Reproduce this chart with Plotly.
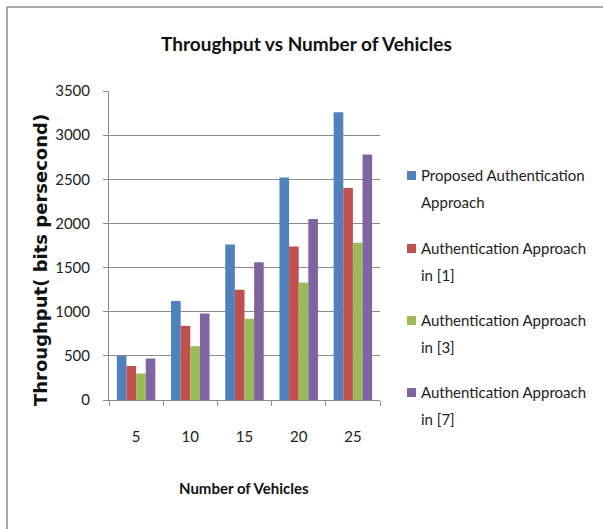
import plotly.graph_objects as go

# Number of vehicles (x categories)
vehicles = ["5", "10", "15", "20", "25"]

# Throughput (bits per second) for each approach
proposed = [500, 1120, 1760, 2520, 3260]
approach_1 = [385, 840, 1250, 1740, 2400]
approach_3 = [300, 610, 920, 1330, 1780]
approach_7 = [470, 980, 1560, 2050, 2780]

series_names = [
    "Proposed Authentication<br>Approach",
    "Authentication Approach<br>in [1]",
    "Authentication Approach<br>in [3]",
    "Authentication Approach<br>in [7]",
]
series_values = [proposed, approach_1, approach_3, approach_7]
colors = ["#4F81BD", "#C0504D", "#9BBB59", "#8064A2"]

W, H = 603, 529
L, R, T, B = 109, 380, 91, 400  # plot area in pixels


def px_x(x):
    return (x - L) / (R - L)


def px_y(y):
    return (B - y) / (B - T)


fig = go.Figure()
for name, vals, col in zip(series_names, series_values, colors):
    fig.add_trace(go.Bar(x=vehicles, y=vals, name=name, marker_color=col,
                         marker_line_width=0, showlegend=False))

# Legend drawn as swatches and two-line labels
annotations = []
shapes = []
legend_top = [175, 248, 320, 392]
for name, col, yc in zip(series_names, colors, legend_top):
    line1, line2 = name.split("<br>")
    shapes.append(dict(type="rect", xref="paper", yref="paper",
                       x0=px_x(407), x1=px_x(416), y0=px_y(yc + 5), y1=px_y(yc - 4),
                       fillcolor=col, line_width=0))
    for k, txt in enumerate([line1, line2]):
        annotations.append(dict(text=txt, xref="paper", yref="paper",
                                x=px_x(419), y=px_y(yc + 27 * k), xanchor="left",
                                yanchor="middle", showarrow=False,
                                font=dict(family="Lato", size=15, color="#222")))

# Chart frame (left and top edges)
frame = dict(color="#8c8c8c", width=1.5)
shapes.append(dict(type="line", xref="paper", yref="paper",
                   x0=px_x(7), x1=px_x(7), y0=px_y(529), y1=px_y(7), line=frame))
shapes.append(dict(type="line", xref="paper", yref="paper",
                   x0=px_x(7), x1=px_x(603), y0=px_y(7), y1=px_y(7), line=frame))

annotations.append(dict(text="<b>Throughput vs Number of Vehicles</b>", xref="paper", yref="paper",
                        x=px_x(306), y=px_y(44), xanchor="center", yanchor="middle",
                        showarrow=False, font=dict(family="Lato", size=19, color="#111")))
annotations.append(dict(text="<b>Number of Vehicles</b>", xref="paper", yref="paper",
                        x=px_x(244), y=px_y(488), xanchor="center", yanchor="middle",
                        showarrow=False, font=dict(family="Lato", size=15, color="#111")))
annotations.append(dict(text="<b>Throughput( bits persecond)</b>", xref="paper", yref="paper",
                        x=px_x(40), y=px_y(260), xanchor="center", yanchor="middle",
                        textangle=-90, showarrow=False,
                        font=dict(family="DejaVu Sans", size=18, color="#111")))

fig.update_layout(
    width=W, height=H,
    margin=dict(l=L, r=W - R, t=T, b=H - B, autoexpand=False),
    paper_bgcolor="white", plot_bgcolor="white",
    barmode="group", bargap=0.29, bargroupgap=0,
    shapes=shapes, annotations=annotations,
    xaxis=dict(type="category", showline=True, linecolor="#8c8c8c", linewidth=1,
               ticks="outside", tickson="boundaries", ticklen=5, tickcolor="#8c8c8c",
               ticklabelstandoff=23,
               tickfont=dict(family="Lato", size=15, color="#222"), showgrid=False),
    yaxis=dict(range=[0, 3500], dtick=500, showline=True, linecolor="#8c8c8c", linewidth=1,
               ticks="outside", ticklen=5, tickcolor="#8c8c8c", ticklabelstandoff=10,
               gridcolor="#8c8c8c", gridwidth=1, zeroline=False,
               tickfont=dict(family="Lato", size=15, color="#222")),
)

fig.write_html("out.html")
